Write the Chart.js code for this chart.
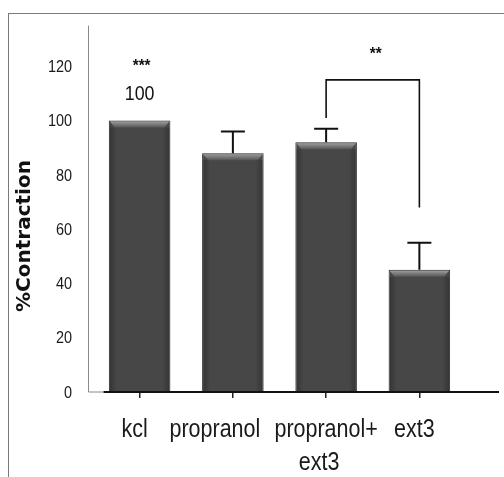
<!DOCTYPE html>
<html><head><meta charset="utf-8">
<script src="https://cdn.jsdelivr.net/npm/chart.js@4/dist/chart.umd.min.js"></script>
<style>
html,body{margin:0;padding:0;background:#fff;width:504px;height:477px;overflow:hidden}
#frame{position:absolute;left:8px;top:13px;width:500px;height:470px;border-left:1.5px solid #7a7a7a;border-top:1.5px solid #7a7a7a}
canvas{position:absolute;left:0;top:0}
</style></head><body>
<div id="frame"></div>
<canvas id="c" width="504" height="477"></canvas>
<script>
const categories = ['kcl', 'propranol', ['propranol+', 'ext3'], 'ext3'];
const contraction = [100, 88, 92, 45];
const sem = [0, 8, 5, 10];
const yTicks = [0, 20, 40, 60, 80, 100, 120];
const yMax = 135;
const starLabels = ['***', '', '', ''];
const valueLabels = ['100', '', '', ''];
const bracketCats = [2, 3];
const bracketValues = [101, 115, 68];
const bracketLabel = '**';
const yTitle = '%Contraction';

const SANS = "'Liberation Sans', Arial, sans-serif";
// style: horizontal nudges of category label lines (px)
const labelNudge = [[-5], [-18], [0, -7], [-5]];
const Y_AXIS_X = 88.5;

function narrowText(ctx, text, x, y, font, sx, align, baseline) {
  ctx.save();
  ctx.translate(x, y);
  ctx.scale(sx, 1);
  ctx.font = font;
  ctx.textAlign = align || 'center';
  ctx.textBaseline = baseline || 'middle';
  ctx.fillText(text, 0, 0);
  ctx.restore();
}

const bevel = {
  id: 'bevel',
  afterDatasetsDraw(chart) {
    const ctx = chart.ctx;
    chart.getDatasetMeta(0).data.forEach(b => {
      const l = b.x - b.width / 2 + 1, r = b.x + b.width / 2 - 1, t = b.y + 1;
      const h = 6;
      const g = ctx.createLinearGradient(0, t, 0, t + h);
      g.addColorStop(0, '#9a9a9a');
      g.addColorStop(1, '#555555');
      ctx.save();
      ctx.fillStyle = g;
      ctx.beginPath();
      ctx.moveTo(l, t); ctx.lineTo(r, t); ctx.lineTo(r - 5, t + h); ctx.lineTo(l + 5, t + h);
      ctx.closePath(); ctx.fill();
      const gs = ctx.createLinearGradient(l, 0, r, 0);
      gs.addColorStop(0, 'rgba(0,0,0,0.25)');
      gs.addColorStop(0.12, 'rgba(0,0,0,0)');
      gs.addColorStop(0.88, 'rgba(0,0,0,0)');
      gs.addColorStop(1, 'rgba(0,0,0,0.25)');
      ctx.fillStyle = gs;
      ctx.fillRect(l, t + h, r - l, b.base - t - h);
      ctx.restore();
    });
  }
};

const extras = {
  id: 'extras',
  afterDraw(chart) {
    const ctx = chart.ctx;
    const ys = chart.scales.y, xs = chart.scales.x;
    const meta = chart.getDatasetMeta(0);
    const y0 = ys.getPixelForValue(0);
    ctx.save();
    // axis lines
    ctx.strokeStyle = '#8a8a8a';
    ctx.lineWidth = 1;
    ctx.beginPath();
    ctx.moveTo(Y_AXIS_X, ys.top);
    ctx.lineTo(Y_AXIS_X, y0);
    ctx.lineTo(Y_AXIS_X + 15, y0);
    ctx.stroke();
    ctx.strokeStyle = '#111';
    ctx.lineWidth = 2;
    ctx.beginPath();
    ctx.moveTo(Y_AXIS_X + 15, y0);
    ctx.lineTo(499, y0);
    ctx.stroke();
    // tick labels (condensed rendering)
    ctx.fillStyle = '#1a1a1a';
    yTicks.forEach(v => {
      narrowText(ctx, String(v), 72, ys.getPixelForValue(v) + 1, '17px ' + SANS, 0.85, 'right', 'middle');
    });
    categories.forEach((lab, i) => {
      const lines = Array.isArray(lab) ? lab : [lab];
      const x = xs.getPixelForTick(i);
      lines.forEach((t, j) => {
        narrowText(ctx, t, x + labelNudge[i][j], y0 + 45 + 33 * j, '25px ' + SANS, 0.86, 'center', 'alphabetic');
      });
    });
    // error bars (upper only)
    ctx.lineWidth = 2;
    meta.data.forEach((b, i) => {
      if (!sem[i]) return;
      const top = ys.getPixelForValue(contraction[i] + sem[i]);
      ctx.beginPath();
      ctx.moveTo(b.x, b.y);
      ctx.lineTo(b.x, top);
      ctx.moveTo(b.x - 12, top);
      ctx.lineTo(b.x + 12, top);
      ctx.stroke();
    });
    ctx.fillStyle = '#111';
    meta.data.forEach((b, i) => {
      const yv = ys.getPixelForValue(contraction[i] + sem[i]);
      if (valueLabels[i]) narrowText(ctx, valueLabels[i], b.x, yv - 26, '21px ' + SANS, 0.85);
      if (starLabels[i]) narrowText(ctx, starLabels[i], b.x + 2, yv - 54, 'bold 17px ' + SANS, 0.9);
    });
    // significance bracket
    const x1 = xs.getPixelForTick(bracketCats[0]), x2 = xs.getPixelForTick(bracketCats[1]);
    ctx.lineWidth = 1.6;
    ctx.beginPath();
    ctx.moveTo(x1, ys.getPixelForValue(bracketValues[0]));
    ctx.lineTo(x1, ys.getPixelForValue(bracketValues[1]));
    ctx.lineTo(x2, ys.getPixelForValue(bracketValues[1]));
    ctx.lineTo(x2, ys.getPixelForValue(bracketValues[2]));
    ctx.stroke();
    narrowText(ctx, bracketLabel, (x1 + x2) / 2 + 3, ys.getPixelForValue(bracketValues[1]) - 26, 'bold 17px ' + SANS, 0.9);
    // y title
    ctx.translate(25, 236);
    ctx.rotate(-Math.PI / 2);
    ctx.font = "bold 20px 'DejaVu Sans', sans-serif";
    ctx.textAlign = 'center';
    ctx.textBaseline = 'middle';
    ctx.fillText(yTitle, 0, 0);
    ctx.restore();
  }
};

new Chart(document.getElementById('c'), {
  type: 'bar',
  data: {
    labels: categories,
    datasets: [{
      data: contraction,
      backgroundColor: '#474747',
      borderColor: '#2b2b2b',
      borderWidth: 1,
      barPercentage: 0.66,
      categoryPercentage: 1
    }]
  },
  options: {
    responsive: false,
    devicePixelRatio: 1,
    animation: false,
    layout: { padding: { top: 15, right: 38, left: 0, bottom: 0 } },
    plugins: { legend: { display: false }, tooltip: { enabled: false } },
    scales: {
      x: {
        offset: true,
        grid: { display: true, drawOnChartArea: false, drawTicks: true, tickLength: 6, offset: false, color: '#222', lineWidth: 1.5 },
        border: { display: false },
        ticks: { font: { family: SANS, size: 21, lineHeight: 1.55 }, color: 'rgba(0,0,0,0)', padding: 6, maxRotation: 0, autoSkip: false },
        afterFit(s) { s.height = 85; }
      },
      y: {
        min: 0, max: yMax,
        grid: { display: false, drawTicks: false },
        border: { display: false },
        ticks: {
          stepSize: 20,
          callback: v => yTicks.includes(v) ? String(v) : '',
          font: { family: SANS, size: 16 }, color: 'rgba(0,0,0,0)', padding: 16
        },
        afterFit(s) { s.width = 93; }
      }
    }
  },
  plugins: [bevel, extras]
});
</script>
</body></html>
